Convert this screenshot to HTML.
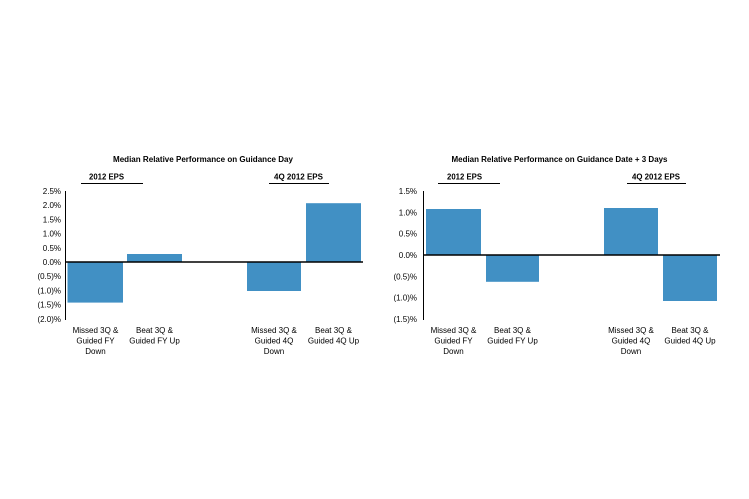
<!DOCTYPE html>
<html><head><meta charset="utf-8"><style>
html,body{margin:0;padding:0;background:#fff;}
svg{display:block;}
text{font-family:"Liberation Sans",Arial,sans-serif;fill:#000;}
.t{font-size:8px;font-weight:bold;}
.l{font-size:8px;}
</style></head><body>
<svg width="749" height="499" viewBox="0 0 749 499" xmlns="http://www.w3.org/2000/svg">
<rect width="749" height="499" fill="#fff"/>
<!-- LEFT CHART -->
<text class="t" x="203" y="162" text-anchor="middle" textLength="180" lengthAdjust="spacingAndGlyphs">Median Relative Performance on Guidance Day</text>
<text class="t" x="106.5" y="179.5" text-anchor="middle" textLength="35" lengthAdjust="spacingAndGlyphs">2012 EPS</text>
<line x1="81" y1="183.5" x2="143" y2="183.5" stroke="#000" stroke-width="1"/>
<text class="t" x="298.5" y="179.5" text-anchor="middle" textLength="49" lengthAdjust="spacingAndGlyphs">4Q 2012 EPS</text>
<line x1="269" y1="183.5" x2="329" y2="183.5" stroke="#000" stroke-width="1"/>
<g class="l" text-anchor="end">
<text class="l" x="61" y="194">2.5%</text>
<text class="l" x="61" y="208.2">2.0%</text>
<text class="l" x="61" y="222.4">1.5%</text>
<text class="l" x="61" y="236.6">1.0%</text>
<text class="l" x="61" y="250.8">0.5%</text>
<text class="l" x="61" y="265">0.0%</text>
<text class="l" x="61" y="279.2">(0.5)%</text>
<text class="l" x="61" y="293.4">(1.0)%</text>
<text class="l" x="61" y="307.6">(1.5)%</text>
<text class="l" x="61" y="321.8">(2.0)%</text>
</g>
<rect x="67.5" y="262" width="55.5" height="40.6" fill="#4190c4"/>
<rect x="127" y="254" width="55" height="8" fill="#4190c4"/>
<rect x="247" y="262" width="54" height="29" fill="#4190c4"/>
<rect x="306" y="203.2" width="55" height="58.8" fill="#4190c4"/>
<line x1="65.5" y1="191" x2="65.5" y2="320" stroke="#000" stroke-width="1"/>
<line x1="65" y1="262" x2="363" y2="262" stroke="#000" stroke-width="1.5"/>
<g text-anchor="middle">
<text class="l" x="95.5" y="333">Missed 3Q &amp;</text>
<text class="l" x="95.5" y="343.5">Guided FY</text>
<text class="l" x="95.5" y="354">Down</text>
<text class="l" x="154.5" y="333">Beat 3Q &amp;</text>
<text class="l" x="154.5" y="343.5">Guided FY Up</text>
<text class="l" x="274" y="333">Missed 3Q &amp;</text>
<text class="l" x="274" y="343.5">Guided 4Q</text>
<text class="l" x="274" y="354">Down</text>
<text class="l" x="333.5" y="333">Beat 3Q &amp;</text>
<text class="l" x="333.5" y="343.5">Guided 4Q Up</text>
</g>
<!-- RIGHT CHART -->
<text class="t" x="559.5" y="162" text-anchor="middle" textLength="216" lengthAdjust="spacingAndGlyphs">Median Relative Performance on Guidance Date + 3 Days</text>
<text class="t" x="464.5" y="179.5" text-anchor="middle" textLength="35" lengthAdjust="spacingAndGlyphs">2012 EPS</text>
<line x1="438" y1="183.5" x2="500" y2="183.5" stroke="#000" stroke-width="1"/>
<text class="t" x="656" y="179.5" text-anchor="middle" textLength="48" lengthAdjust="spacingAndGlyphs">4Q 2012 EPS</text>
<line x1="627" y1="183.5" x2="686" y2="183.5" stroke="#000" stroke-width="1"/>
<g text-anchor="end">
<text class="l" x="417" y="194">1.5%</text>
<text class="l" x="417" y="215.3">1.0%</text>
<text class="l" x="417" y="236.6">0.5%</text>
<text class="l" x="417" y="258">0.0%</text>
<text class="l" x="417" y="279.3">(0.5)%</text>
<text class="l" x="417" y="300.6">(1.0)%</text>
<text class="l" x="417" y="322">(1.5)%</text>
</g>
<rect x="426" y="209" width="55" height="46" fill="#4190c4"/>
<rect x="486" y="255" width="53" height="26.8" fill="#4190c4"/>
<rect x="604" y="208" width="54" height="47" fill="#4190c4"/>
<rect x="663" y="255" width="54" height="46" fill="#4190c4"/>
<line x1="423.5" y1="191" x2="423.5" y2="320" stroke="#000" stroke-width="1"/>
<line x1="423" y1="255" x2="720" y2="255" stroke="#000" stroke-width="1.5"/>
<g text-anchor="middle">
<text class="l" x="453.5" y="333">Missed 3Q &amp;</text>
<text class="l" x="453.5" y="343.5">Guided FY</text>
<text class="l" x="453.5" y="354">Down</text>
<text class="l" x="512.5" y="333">Beat 3Q &amp;</text>
<text class="l" x="512.5" y="343.5">Guided FY Up</text>
<text class="l" x="631" y="333">Missed 3Q &amp;</text>
<text class="l" x="631" y="343.5">Guided 4Q</text>
<text class="l" x="631" y="354">Down</text>
<text class="l" x="690" y="333">Beat 3Q &amp;</text>
<text class="l" x="690" y="343.5">Guided 4Q Up</text>
</g>
</svg>
</body></html>
